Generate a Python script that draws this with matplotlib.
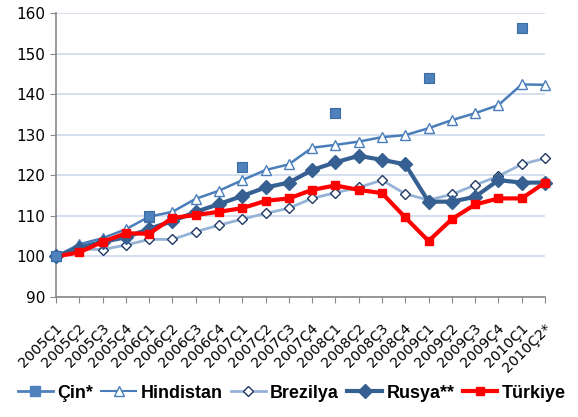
import matplotlib
matplotlib.use("Agg")
import matplotlib.pyplot as plt
from matplotlib.lines import Line2D
from matplotlib.transforms import ScaledTranslation

categories = ["2005Ç1", "2005Ç2", "2005Ç3", "2005Ç4", "2006Ç1", "2006Ç2", "2006Ç3", "2006Ç4",
              "2007Ç1", "2007Ç2", "2007Ç3", "2007Ç4", "2008Ç1", "2008Ç2", "2008Ç3", "2008Ç4",
              "2009Ç1", "2009Ç2", "2009Ç3", "2009Ç4", "2010Ç1", "2010Ç2*"]

cin_idx = [0, 4, 8, 12, 16, 20]
cin = [100, 110.0, 122.1, 135.3, 144.1, 156.4]
hindistan = [100, 103.0, 104.5, 106.7, 109.8, 111.0, 114.2, 116.2, 118.8, 121.3, 122.7,
             126.8, 127.5, 128.3, 129.4, 129.9, 131.6, 133.6, 135.3, 137.3, 142.4, 142.3]
brezilya = [100, 101.8, 101.7, 102.8, 104.2, 104.2, 106.1, 107.7, 109.2, 110.6, 111.9,
            114.3, 115.7, 117.0, 118.8, 115.4, 113.9, 115.3, 117.6, 119.8, 122.7, 124.2]
rusya = [100, 102.2, 103.6, 104.7, 106.8, 108.7, 111.0, 112.9, 114.9, 117.0, 118.2,
         121.3, 123.2, 124.8, 123.8, 122.7, 113.5, 113.5, 114.7, 118.8, 118.2, 118.2]
turkiye = [100, 101.0, 103.6, 105.7, 105.6, 109.5, 110.2, 111.0, 111.9, 113.7, 114.3,
           116.4, 117.5, 116.4, 115.6, 109.6, 103.8, 109.2, 112.8, 114.3, 114.3, 118.2]
yticks = [90, 100, 110, 120, 130, 140, 150, 160]
labels = ["Çin*", "Hindistan", "Brezilya", "Rusya**", "Türkiye"]

plt.rcParams['font.family'] = ['DejaVu Sans']

fig = plt.figure(figsize=(5.78, 4.17), dpi=100)
ax = fig.add_axes([56/578, 1-297/417, (545-56)/578, (297-13)/417])

x = list(range(len(categories)))
c_cin = '#4F81BD'
c_hin = '#4A7EBB'
c_bre = '#95B3D7'
c_rus = '#376092'
c_tur = '#FF0000'

ax.plot(x, brezilya, color=c_bre, lw=2, marker='D', ms=5.5, mfc='white', mec='#1F3864', mew=1,
        zorder=3, clip_on=False)
ax.plot(x, hindistan, color=c_hin, lw=1.8, marker='^', ms=7.5, mfc='white', mec=c_hin, mew=1,
        zorder=4, clip_on=False)
ax.plot(x, rusya, color=c_rus, lw=3, marker='D', ms=7.5, mfc=c_rus, mec=c_rus, zorder=5, clip_on=False)
ax.plot(x, turkiye, color=c_tur, lw=3, marker='s', ms=5.5, mfc=c_tur, mec=c_tur, zorder=6, clip_on=False)
ax.plot(cin_idx, cin, ls='none', marker='s', ms=7.5, mfc=c_cin, mec='#3A6BA5', mew=0.8,
        zorder=7, clip_on=False)

ax.set_xlim(0, len(categories) - 1)
ax.set_ylim(90, 160)
ax.set_yticks(yticks)
ax.set_yticklabels([str(v) for v in yticks], fontsize=11)
ax.set_xticks(x)
ax.set_xticklabels(categories, rotation=45, ha='right', va='center', rotation_mode='anchor', fontsize=10.3)
ax.tick_params(axis='x', length=4, color='#888888', pad=17)
ax.tick_params(axis='y', length=4, color='#888888', pad=4)
shift = ScaledTranslation(4/100, 0, fig.dpi_scale_trans)
for lab in ax.get_xticklabels():
    lab.set_transform(lab.get_transform() + shift)
ax.grid(axis='y', color='#CDD9EA', lw=1.2)
ax.set_axisbelow(True)
for s in ['top', 'right']:
    ax.spines[s].set_visible(False)
for s in ['left', 'bottom']:
    ax.spines[s].set_color('#888888')
    ax.spines[s].set_linewidth(1.2)

handles = [
    Line2D([], [], color=c_cin, lw=2, marker='s', ms=6.5, mfc=c_cin, mec=c_cin),
    Line2D([], [], color=c_hin, lw=1.5, marker='^', ms=6.5, mfc='white', mec=c_hin),
    Line2D([], [], color=c_bre, lw=2, marker='D', ms=5.5, mfc='white', mec='#1F3864'),
    Line2D([], [], color=c_rus, lw=3, marker='D', ms=7, mfc=c_rus, mec=c_rus),
    Line2D([], [], color=c_tur, lw=3, marker='s', ms=5.5, mfc=c_tur, mec=c_tur),
]
fig.legend(handles, labels, loc='center', bbox_to_anchor=(0.505, 1-393/417), ncol=5,
           frameon=False, prop={'family': 'Liberation Sans', 'weight': 'bold', 'size': 12.9},
           handlelength=1.95, handletextpad=0.25, columnspacing=0.45, borderaxespad=0)

fig.savefig('out.png', dpi=100)
